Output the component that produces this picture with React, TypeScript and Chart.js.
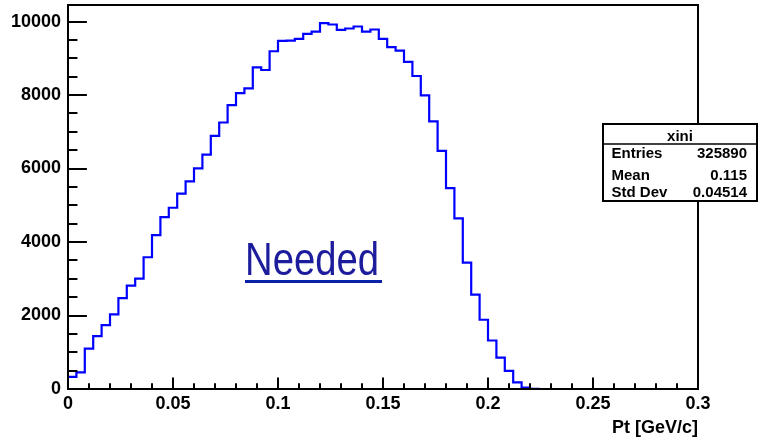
import React, { useEffect, useRef } from 'react';
import { Chart, registerables } from 'chart.js';

Chart.register(...registerables);

// Histogram definition (75 bins, 0 .. 0.3)
const binMin = 0;
const binWidth = 0.004;
const counts = [
  330, 455, 1100, 1438, 1738, 2030, 2475, 2812, 3003, 3585, 4186, 4677, 4933, 5315, 5651,
  6006, 6380, 6888, 7253, 7726, 8053, 8182, 8755, 8681, 9192, 9473, 9480, 9528, 9664, 9727,
  9956, 9919, 9774, 9810, 9865, 9727, 9783, 9528, 9301, 9209, 8900, 8518, 7990, 7281, 6479,
  5469, 4641, 3440, 2566, 1884, 1320, 856, 491, 182, 40, 5, 0, 0, 0, 0,
  0, 0, 0, 0, 0, 0, 0, 0, 0, 0, 0, 0, 0, 0, 0,
];

const xMin = 0;
const xMax = 0.3;
const yMin = 0;
const yMax = 10450;
const yTickValues = [0, 2000, 4000, 6000, 8000, 10000];
const yTickLabels = ['0', '2000', '4000', '6000', '8000', '10000'];
const xTickValues = [0, 0.05, 0.1, 0.15, 0.2, 0.25, 0.3];
const xTickLabels = ['0', '0.05', '0.1', '0.15', '0.2', '0.25', '0.3'];
const yMinorStep = 500;
const xMinorStep = 0.01;

const xTitle = 'Pt [GeV/c]';
const statsTitle = 'xini';
const statsLabels = ['Entries', 'Mean', 'Std Dev'];
const statsValues = ['325890', '0.115', '0.04514'];
const annotationText = 'Needed';

const FONT = '"Liberation Sans", Arial, Helvetica, sans-serif';

function isMultipleOf(v: number, list: number[]) {
  return list.some((t) => Math.abs(t - v) < 1e-9 * Math.max(1, Math.abs(t)));
}

const rootPlugin = {
  id: 'rootStyle',
  afterDatasetsDraw(chart: any) {
    const { ctx, chartArea: a, scales } = chart;
    const xs = scales.x;
    const ys = scales.y;
    const w = a.right - a.left;
    const h = a.bottom - a.top;
    ctx.save();

    // frame
    ctx.strokeStyle = '#000';
    ctx.lineWidth = 2;
    ctx.strokeRect(a.left, a.top, w, h);

    // y ticks (inside)
    const yMajLen = 0.03 * w;
    ctx.beginPath();
    for (let i = 0; i * yMinorStep <= yMax + 1e-9; i++) {
      const v = i * yMinorStep;
      const py = Math.round(ys.getPixelForValue(v));
      const len = isMultipleOf(v, yTickValues) ? yMajLen : yMajLen / 2;
      ctx.moveTo(a.left, py);
      ctx.lineTo(a.left + len, py);
    }
    // x ticks (inside)
    const xMajLen = 0.03 * h;
    for (let i = 0; i * xMinorStep <= xMax + 1e-9; i++) {
      const v = Math.round(i * xMinorStep * 1000) / 1000;
      const px = Math.round(xs.getPixelForValue(v));
      const len = isMultipleOf(v, xTickValues) ? xMajLen : xMajLen / 2;
      ctx.moveTo(px, a.bottom);
      ctx.lineTo(px, a.bottom - len);
    }
    ctx.stroke();

    // "Needed" annotation
    ctx.save();
    ctx.font = `47px ${FONT}`;
    const tw = ctx.measureText(annotationText).width;
    const targetW = 134;
    const tx = 245;
    const ty = 275;
    ctx.translate(tx, ty);
    ctx.scale(targetW / tw, 1);
    ctx.fillStyle = '#1c1c9c';
    ctx.textBaseline = 'alphabetic';
    ctx.textAlign = 'left';
    ctx.fillText(annotationText, 0, 0);
    ctx.restore();
    ctx.fillStyle = '#0a22a8';
    ctx.fillRect(tx, 280, targetW + 3, 3);

    // stats box
    const bx = 603, by = 124, bw = 154, bh = 77;
    ctx.fillStyle = '#fff';
    ctx.fillRect(bx, by, bw, bh);
    ctx.strokeStyle = '#000';
    ctx.lineWidth = 2;
    ctx.strokeRect(bx, by, bw, bh);
    ctx.lineWidth = 1.5;
    ctx.beginPath();
    ctx.moveTo(bx, 144);
    ctx.lineTo(bx + bw, 144);
    ctx.stroke();
    ctx.fillStyle = '#000';
    ctx.font = `bold 15px ${FONT}`;
    ctx.textBaseline = 'alphabetic';
    ctx.textAlign = 'center';
    ctx.fillText(statsTitle, bx + bw / 2, 141);
    const rowBase = [157.5, 179.5, 196.5];
    statsLabels.forEach((lab, i) => {
      ctx.textAlign = 'left';
      ctx.fillText(lab, 611.5, rowBase[i]);
      ctx.textAlign = 'right';
      ctx.fillText(statsValues[i], 747, rowBase[i]);
    });

    ctx.restore();
  },
};

export default function App() {
  const ref = useRef<HTMLCanvasElement>(null);

  useEffect(() => {
    document.body.style.margin = '0';
    const canvas = ref.current;
    if (!canvas) return;

    const points = counts.map((c, i) => ({ x: binMin + i * binWidth, y: c }));
    points.push({ x: binMin + counts.length * binWidth, y: counts[counts.length - 1] });

    const chart = new Chart(canvas, {
      type: 'line',
      data: {
        datasets: [
          {
            data: points,
            borderColor: '#0000ff',
            borderWidth: 2.2,
            pointRadius: 0,
            fill: false,
            stepped: 'before',
            tension: 0,
          },
        ],
      },
      options: {
        animation: false,
        responsive: false,
        maintainAspectRatio: false,
        layout: { padding: { top: 5, right: 60, left: 0, bottom: 0 } },
        plugins: { legend: { display: false }, tooltip: { enabled: false } },
        scales: {
          x: {
            type: 'linear',
            min: xMin,
            max: xMax,
            grid: { display: false, drawTicks: false },
            border: { display: false },
            afterBuildTicks: (s: any) => {
              s.ticks = xTickValues.map((v) => ({ value: v }));
            },
            ticks: {
              autoSkip: false,
              maxRotation: 0,
              padding: 4,
              color: '#000',
              font: { family: FONT, size: 18, weight: 'bold' },
              callback: (_v: any, i: number) => xTickLabels[i] ?? '',
            },
            title: {
              display: true,
              text: xTitle,
              align: 'end',
              color: '#000',
              padding: { top: 0, bottom: 0 },
              font: { family: FONT, size: 18, weight: 'bold' },
            },
            afterFit: (s: any) => {
              s.height = 50;
              s.paddingLeft = 0;
              s.paddingRight = 0;
            },
          },
          y: {
            type: 'linear',
            min: yMin,
            max: yMax,
            grid: { display: false, drawTicks: false },
            border: { display: false },
            afterBuildTicks: (s: any) => {
              s.ticks = yTickValues.map((v) => ({ value: v }));
            },
            ticks: {
              autoSkip: false,
              padding: 7,
              color: '#000',
              font: { family: FONT, size: 18, weight: 'bold' },
              callback: (_v: any, i: number) => yTickLabels[i] ?? '',
            },
            afterFit: (s: any) => {
              s.width = 68;
              s.paddingTop = 0;
              s.paddingBottom = 0;
            },
          },
        },
      },
      plugins: [rootPlugin],
    });

    return () => chart.destroy();
  }, []);

  return (
    <div style={{ width: 758, height: 439, background: '#fff' }}>
      <canvas ref={ref} width={758} height={439} style={{ display: 'block' }} />
    </div>
  );
}
